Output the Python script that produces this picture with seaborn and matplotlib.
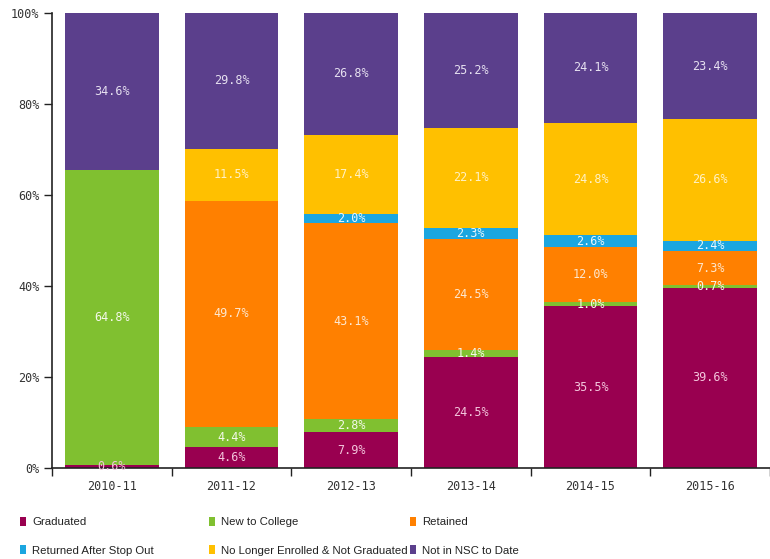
import matplotlib
matplotlib.use("Agg")
import matplotlib.pyplot as plt
from matplotlib.patches import Patch
import numpy as np
import pandas as pd
import seaborn as sns

years = ["2010-11", "2011-12", "2012-13", "2013-14", "2014-15", "2015-16"]
graduated = [0.6, 4.6, 7.9, 24.5, 35.5, 39.6]
new_to_college = [64.8, 4.4, 2.8, 1.4, 1.0, 0.7]
retained = [0.0, 49.7, 43.1, 24.5, 12.0, 7.3]
returned_after_stop_out = [0.0, 0.0, 2.0, 2.3, 2.6, 2.4]
no_longer_enrolled = [0.0, 11.5, 17.4, 22.1, 24.8, 26.6]
not_in_nsc = [34.6, 29.8, 26.8, 25.2, 24.1, 23.4]

series_names = ["Graduated", "New to College", "Retained",
                "Returned After Stop Out", "No Longer Enrolled & Not Graduated",
                "Not in NSC to Date"]
series_values = [graduated, new_to_college, retained,
                 returned_after_stop_out, no_longer_enrolled, not_in_nsc]
series_colors = ["#990050", "#80c030", "#ff8000", "#1ba6e0", "#ffc000", "#5b3f8c"]
label_colors = ["#f3c6dc", "#f4f8ea", "#fde7cf", "#eaf6fc", "#fff1c4", "#e6e0f0"]

sns.set_theme(style="white")
plt.rcParams["font.family"] = ["DejaVu Sans"]

fig = plt.figure(figsize=(7.70, 5.59), dpi=100)
ax = fig.add_axes([52 / 770, 91 / 559, 718 / 770, 455 / 559])

df = pd.DataFrame({"year": years})
bottom = np.zeros(len(years))
for name, vals, color, lcol in zip(series_names, series_values, series_colors, label_colors):
    vals = np.asarray(vals, dtype=float)
    df[name] = vals
    sns.barplot(data=df, x="year", y=name, color=color, width=0.78,
                bottom=bottom, ax=ax, saturation=1, linewidth=0, order=years)
    for i, v in enumerate(vals):
        if v > 0:
            ax.text(i, bottom[i] + v / 2, f"{v:.1f}%", ha="center", va="center",
                    color=lcol, fontsize=8.5, family="DejaVu Sans Mono")
    bottom = bottom + vals

ax.set_xlim(-0.5, -0.5 + 718 / 121.5)
ax.set_ylim(0, 100)
ax.set_xlabel("")
ax.set_ylabel("")

ax.set_yticks([0, 20, 40, 60, 80, 100])
ax.set_yticklabels(["0%", "20%", "40%", "60%", "80%", "100%"],
                   family="DejaVu Sans Mono", fontsize=8.5, color="#333333")
ax.tick_params(axis="y", which="major", left=True, length=6, width=1, color="#222222", pad=3)

ax.set_xticks(range(len(years)))
ax.set_xticklabels(years, family="DejaVu Sans Mono", fontsize=8.5, color="#333333")
ax.tick_params(axis="x", which="major", bottom=False, pad=3)
ax.set_xticks(np.arange(-0.5, len(years), 1.0), minor=True)
ax.tick_params(axis="x", which="minor", bottom=True, length=6, width=1, color="#222222")

for side in ["top", "right"]:
    ax.spines[side].set_visible(False)
for side in ["left", "bottom"]:
    ax.spines[side].set_color("#222222")
    ax.spines[side].set_linewidth(1.2)

# three two-row legend columns beneath the axes
handles = [Patch(facecolor=c, edgecolor="none") for c in series_colors]
legend_cols = [(0, 3, 20), (1, 4, 209), (2, 5, 410)]
for top_i, bot_i, xpx in legend_cols:
    leg = fig.legend([handles[top_i], handles[bot_i]],
                     [series_names[top_i], series_names[bot_i]],
                     loc="upper left", bbox_to_anchor=(xpx / 770, 1 - 517 / 559),
                     frameon=False, handlelength=0.55, handleheight=0.85,
                     handletextpad=0.5, labelspacing=1.55, borderaxespad=0, borderpad=0,
                     prop={"family": "Liberation Sans", "size": 8.2})
    for t in leg.get_texts():
        t.set_color("#222222")

fig.savefig("out.png", dpi=100, facecolor="white")
